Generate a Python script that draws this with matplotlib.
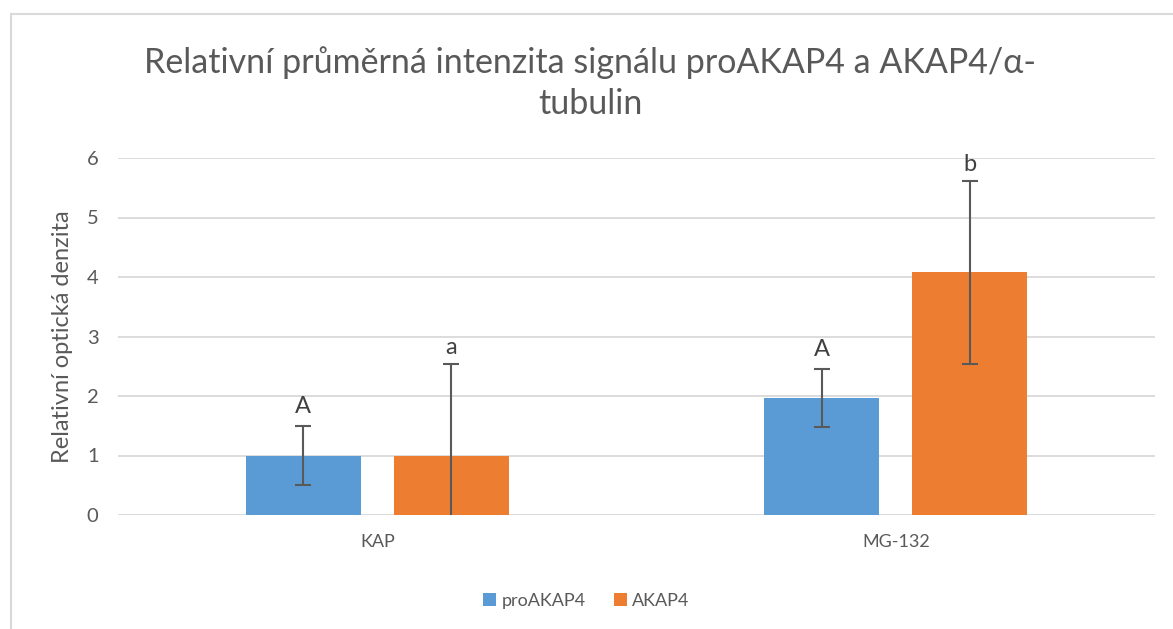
import matplotlib
matplotlib.use("Agg")
import matplotlib.pyplot as plt
import numpy as np
from matplotlib.patches import Rectangle

# data
categories = ["KAP", "MG-132"]
series_names = ["proAKAP4", "AKAP4"]
pro_vals = [1.0, 1.97]
pro_err = [0.49, 0.49]
akap_vals = [1.0, 4.08]
akap_err = [1.54, 1.54]
pro_letters = ["A", "A"]
akap_letters = ["a", "b"]
yticks = [0, 1, 2, 3, 4, 5, 6]

blue = "#5B9BD5"
orange = "#ED7D31"
text_col = "#595959"
grid_col = "#D9D9D9"

plt.rcParams["font.family"] = ["Lato", "DejaVu Sans"]

fig = plt.figure(figsize=(11.73, 6.29), dpi=100)
ax = fig.add_axes([118 / 1173, 1 - 515 / 629, (1155 - 118) / 1173, (515 - 158) / 629])

x = np.arange(len(categories))
w = 0.222
off = 0.143
errkw = dict(ecolor=text_col, elinewidth=1.5, capsize=6, capthick=1.5)
ax.bar(x - off, pro_vals, w, color=blue, label=series_names[0], zorder=3,
       yerr=pro_err, error_kw=errkw)
ax.bar(x + off, akap_vals, w, color=orange, label=series_names[1], zorder=3,
       yerr=akap_err, error_kw=errkw)

# significance letters above error bars
for i in range(len(categories)):
    ax.text(x[i] - off, pro_vals[i] + pro_err[i] + 0.22, pro_letters[i],
            ha="center", va="baseline", fontsize=17, color="#404040")
    ax.text(x[i] + off, akap_vals[i] + akap_err[i] + 0.16, akap_letters[i],
            ha="center", va="baseline", fontsize=17, color="#404040")

ax.set_xlim(-0.5, 1.5)
ax.set_ylim(0, 6)
ax.set_yticks(yticks)
ax.set_xticks(x)
ax.set_xticklabels(categories)
ax.tick_params(axis="both", length=0, colors=text_col, labelsize=13)
ax.tick_params(axis="y", labelsize=14.5)
ax.tick_params(axis="x", pad=14)
ax.tick_params(axis="y", pad=14)
for s in ax.spines.values():
    s.set_visible(False)
ax.grid(axis="y", color=grid_col, linewidth=1.3, zorder=0)
ax.set_axisbelow(True)
ax.set_ylabel("Relativní optická denzita", fontsize=17, color=text_col, labelpad=10)

fig.text(0.503, 1 - 83 / 629,
         "Relativní průměrná intenzita signálu proAKAP4 a AKAP4/α-\ntubulin",
         ha="center", va="center", fontsize=24.5, color=text_col, linespacing=1.35)

fig.legend(loc="center", bbox_to_anchor=(0.5, 1 - 601 / 629), ncol=2, frameon=False,
           fontsize=13, labelcolor=text_col, handlelength=0.7, handleheight=0.7,
           handletextpad=0.3, columnspacing=1.6)

# outer chart border
fig.patches.append(Rectangle((11 / 1173, -0.1), 1.2, 1.1 - 14 / 629,
                             transform=fig.transFigure, fill=False,
                             edgecolor=grid_col, linewidth=1.5))

fig.savefig("out.png", dpi=100)
